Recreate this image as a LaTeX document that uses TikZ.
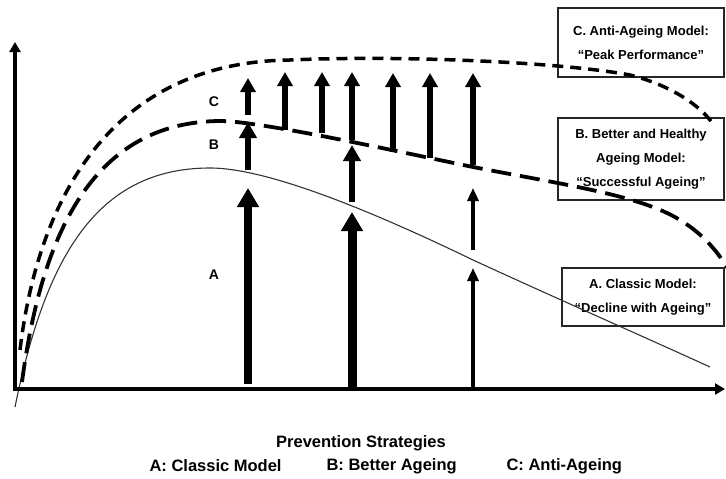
\documentclass[tikz,border=0pt]{standalone}
\usepackage{fontspec}
\setmainfont{Liberation Sans}
\usetikzlibrary{arrows.meta}
\begin{document}
\begin{tikzpicture}[x=1pt,y=-1pt,
  axisline/.style={line width=3.6pt, -{Triangle[length=10pt,width=11pt]}},
  curveA/.style={line width=1.1pt, black!80},
  curveB/.style={line width=3.8pt, dash pattern=on 20pt off 9pt},
  curveC/.style={line width=3.5pt, dash pattern=on 11pt off 7pt},
  bigarrow/.style={line width=7.5pt, -{Triangle[length=19pt,width=21pt]}},
  midarrow/.style={line width=6pt, -{Triangle[length=16pt,width=17pt]}},
  toparrow/.style={line width=6pt, -{Triangle[length=14pt,width=15pt]}},
  thinarrow/.style={line width=4pt, -{Triangle[length=13pt,width=11pt]}},
  infobox/.style={draw=black!85, line width=1.3pt, align=center, inner sep=0pt,
    font=\fontsize{13}{24}\selectfont\bfseries},
  curvelabel/.style={font=\fontsize{14}{16}\selectfont\bfseries},
  bottomtext/.style={font=\fontsize{16.5}{19}\selectfont\bfseries}
]
\fill[white] (0,0) rectangle (726,479);
\useasboundingbox (0,0) rectangle (726,479);

% info boxes
\node[infobox, minimum width=166pt, minimum height=69pt] (boxC) at (641,42.5)
  {C. Anti-Ageing Model:\\“Peak Performance”};
\node[infobox, minimum width=166pt, minimum height=82pt] (boxB) at (641,159)
  {B. Better and Healthy\\Ageing Model:\\“Successful Ageing”};
\node[infobox, minimum width=162pt, minimum height=58pt] (boxA) at (643,297)
  {A. Classic Model:\\“Decline with Ageing”};

% curves
\draw[curveA] (15,407) .. controls (45,260) and (95,168) .. (210,168)
  .. controls (270,168) and (380,215) .. (473,260)
  .. controls (560,300) and (640,335) .. (710,367);
\draw[curveB] (22,382) .. controls (42,230) and (95,122) .. (220,121)
  .. controls (260,121) and (400,152) .. (473,167)
  .. controls (560,184) and (640,195) .. (680,220)
  .. controls (705,235) and (720,255) .. (730,272);
\draw[curveC] (20,350) .. controls (38,200) and (110,62) .. (290,60)
  .. controls (400,55) and (560,62) .. (630,75)
  .. controls (670,85) and (700,105) .. (713,124);

% strategy arrows
\draw[bigarrow] (248,384) -- (248,188);
\draw[midarrow] (248,170) -- (248,122);
\draw[toparrow] (248,115) -- (248,78);
\draw[toparrow] (285,130) -- (285,72);
\draw[toparrow] (322,133) -- (322,72);
\draw[bigarrow, line width=9pt] (352,389) -- (352,212);
\draw[midarrow] (352,202) -- (352,145);
\draw[toparrow] (352,140) -- (352,72);
\draw[toparrow] (393,152) -- (393,73);
\draw[toparrow] (430,158) -- (430,73);
\draw[thinarrow] (473,389) -- (473,268);
\draw[thinarrow] (473,250) -- (473,188);
\draw[toparrow] (473,165) -- (473,73);

% axes
\draw[axisline] (15,391) -- (15,42);
\draw[axisline] (13,389) -- (725,389);

% curve labels
\node[curvelabel] (labC) at (214,102) {C};
\node[curvelabel] (labB) at (214,145) {B};
\node[curvelabel] (labA) at (214,275) {A};

% bottom texts
\node[bottomtext] (title) at (361,443) {Prevention Strategies};
\node[bottomtext, anchor=west] (legA) at (146,466) {A: Classic Model};
\node[bottomtext, anchor=west] (legB) at (323,466) {B: Better Ageing};
\node[bottomtext, anchor=west] (legC) at (503,466) {C: Anti-Ageing};
\end{tikzpicture}
\end{document}
